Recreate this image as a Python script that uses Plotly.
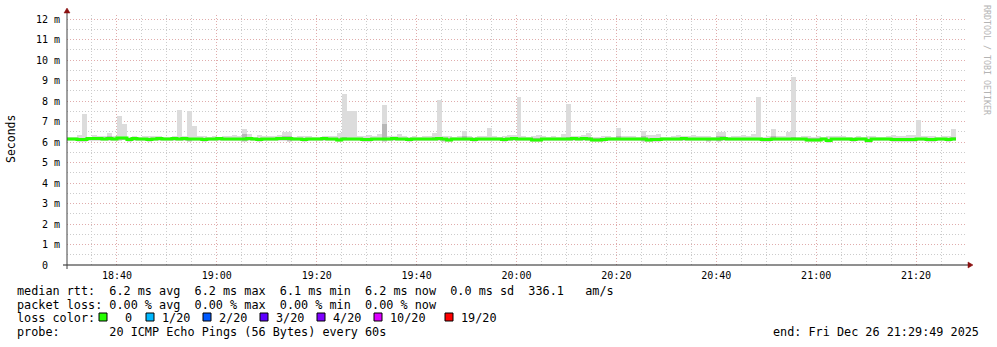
import pandas as pd
import plotly.graph_objects as go

# ---------------- data ----------------
start_time = "2025-12-26 18:30:00"
end_time = "2025-12-26 21:30:00"

median_ms = [
    6.15, 6.15, 6.12, 6.12, 6.17, 6.17, 6.17, 6.15, 6.17, 6.15,
    6.20, 6.20, 6.12, 6.17, 6.15, 6.15, 6.12, 6.15, 6.17, 6.15,
    6.15, 6.17, 6.15, 6.17, 6.15, 6.15, 6.15, 6.12, 6.15, 6.15,
    6.17, 6.15, 6.15, 6.15, 6.15, 6.15, 6.17, 6.15, 6.12, 6.15,
    6.15, 6.15, 6.17, 6.17, 6.17, 6.15, 6.15, 6.12, 6.15, 6.15,
    6.15, 6.17, 6.15, 6.15, 6.10, 6.15, 6.15, 6.15, 6.15, 6.12,
    6.12, 6.15, 6.15, 6.15, 6.15, 6.17, 6.15, 6.15, 6.12, 6.15,
    6.15, 6.15, 6.15, 6.15, 6.17, 6.15, 6.10, 6.15, 6.15, 6.15,
    6.15, 6.12, 6.15, 6.15, 6.15, 6.15, 6.15, 6.12, 6.15, 6.17,
    6.15, 6.15, 6.15, 6.10, 6.10, 6.15, 6.15, 6.15, 6.15, 6.15,
    6.15, 6.17, 6.15, 6.17, 6.15, 6.10, 6.10, 6.12, 6.15, 6.15,
    6.15, 6.15, 6.15, 6.15, 6.15, 6.15, 6.10, 6.12, 6.12, 6.15,
    6.15, 6.15, 6.15, 6.17, 6.15, 6.15, 6.15, 6.15, 6.15, 6.15,
    6.15, 6.17, 6.15, 6.15, 6.15, 6.15, 6.15, 6.15, 6.15, 6.12,
    6.12, 6.15, 6.15, 6.15, 6.15, 6.15, 6.15, 6.15, 6.10, 6.10,
    6.10, 6.15, 6.08, 6.15, 6.15, 6.15, 6.15, 6.12, 6.15, 6.15,
    6.08, 6.15, 6.15, 6.15, 6.15, 6.12, 6.12, 6.12, 6.12, 6.12,
    6.15, 6.15, 6.12, 6.12, 6.15, 6.15, 6.12, 6.15,
]

smoke_max_ms = [
    6.25, 6.27, 6.34, 7.38, 6.27, 6.34, 6.30, 6.28, 6.45, 6.30,
    7.27, 6.88, 6.27, 6.30, 6.26, 6.30, 6.30, 6.28, 6.30, 6.25,
    6.27, 6.30, 7.56, 6.30, 7.53, 6.78, 6.28, 6.30, 6.25, 6.28,
    6.27, 6.30, 6.28, 6.32, 6.28, 6.63, 6.40, 6.27, 6.32, 6.30,
    6.30, 6.30, 6.32, 6.50, 6.50, 6.27, 6.28, 6.30, 6.30, 6.27,
    6.27, 6.30, 6.28, 6.30, 6.45, 8.34, 7.53, 7.53, 6.30, 6.28,
    6.32, 6.30, 6.37, 7.80, 6.30, 6.28, 6.40, 6.30, 6.27, 6.28,
    6.27, 6.30, 6.30, 6.46, 8.05, 6.30, 6.30, 6.27, 6.30, 6.53,
    6.28, 6.27, 6.30, 6.28, 6.67, 6.28, 6.27, 6.30, 6.32, 6.34,
    8.21, 6.28, 6.26, 6.30, 6.32, 6.30, 6.27, 6.28, 6.27, 6.37,
    7.85, 6.28, 6.30, 6.34, 6.45, 6.27, 6.26, 6.28, 6.30, 6.27,
    6.70, 6.30, 6.30, 6.28, 6.27, 6.53, 6.32, 6.32, 6.37, 6.27,
    6.26, 6.30, 6.32, 6.30, 6.30, 6.32, 6.28, 6.30, 6.28, 6.27,
    6.50, 6.50, 6.27, 6.28, 6.30, 6.32, 6.28, 6.37, 8.21, 6.27,
    6.30, 6.63, 6.28, 6.30, 6.50, 9.19, 6.27, 6.28, 6.30, 6.27,
    6.28, 6.26, 6.30, 6.30, 6.30, 6.30, 6.26, 6.27, 6.28, 6.26,
    6.30, 6.30, 6.27, 6.26, 6.30, 6.32, 6.30, 6.30, 6.32, 6.34,
    7.07, 6.30, 6.28, 6.28, 6.27, 6.30, 6.28, 6.63,
]

smoke_min_ms = [
    6.03, 6.04, 6.00, 6.00, 6.05, 6.03, 6.05, 6.03, 6.05, 6.03,
    6.06, 6.08, 6.00, 6.05, 6.03, 6.03, 6.00, 6.03, 6.05, 6.03,
    6.03, 6.05, 6.03, 6.05, 6.01, 6.03, 6.03, 6.00, 6.03, 6.03,
    6.05, 6.03, 6.03, 6.03, 6.03, 6.01, 6.05, 6.03, 6.00, 6.03,
    6.03, 6.03, 6.05, 6.05, 6.01, 6.03, 6.03, 6.00, 6.03, 6.03,
    6.03, 6.05, 6.03, 6.03, 5.98, 6.03, 6.03, 6.03, 6.03, 6.00,
    6.00, 6.03, 6.03, 6.01, 6.03, 6.05, 6.03, 6.03, 6.00, 6.03,
    6.03, 6.03, 6.03, 6.03, 6.05, 6.01, 5.98, 6.03, 6.03, 6.03,
    6.03, 6.00, 6.03, 6.03, 6.03, 6.03, 6.03, 6.00, 6.03, 6.05,
    6.03, 6.03, 6.03, 5.98, 5.98, 6.03, 6.03, 6.03, 6.03, 6.03,
    6.03, 6.05, 6.03, 6.05, 6.03, 5.98, 5.98, 6.00, 6.03, 6.03,
    6.03, 6.03, 6.03, 6.03, 6.03, 6.01, 5.98, 6.00, 6.00, 6.03,
    6.03, 6.03, 6.03, 6.05, 6.03, 6.03, 6.03, 6.03, 6.01, 6.03,
    6.00, 6.05, 6.03, 6.03, 6.03, 6.03, 6.03, 6.03, 6.03, 6.00,
    6.00, 6.03, 6.03, 6.03, 6.03, 6.03, 6.03, 6.03, 5.98, 5.98,
    5.98, 6.03, 5.96, 6.03, 6.03, 6.03, 6.03, 6.00, 6.03, 6.03,
    5.96, 6.03, 6.03, 6.03, 6.03, 6.00, 6.00, 6.00, 6.00, 6.00,
    6.03, 6.03, 6.00, 6.00, 6.03, 6.03, 5.98, 6.03,
]

# darker core of the smoke (inner pings)
smoke_core_lo_ms = [
    6.08, 6.08, 6.05, 6.05, 6.10, 6.08, 6.10, 6.08, 6.10, 6.08,
    6.12, 6.12, 6.05, 6.10, 6.08, 6.08, 6.05, 6.08, 6.10, 6.08,
    6.08, 6.10, 6.08, 6.10, 6.07, 6.08, 6.08, 6.05, 6.08, 6.08,
    6.10, 6.08, 6.08, 6.08, 6.08, 6.07, 6.10, 6.08, 6.05, 6.08,
    6.08, 6.08, 6.10, 6.10, 6.07, 6.08, 6.08, 6.05, 6.08, 6.08,
    6.08, 6.10, 6.08, 6.08, 6.03, 6.08, 6.08, 6.08, 6.08, 6.05,
    6.05, 6.08, 6.08, 6.07, 6.08, 6.10, 6.08, 6.08, 6.05, 6.08,
    6.08, 6.08, 6.08, 6.08, 6.10, 6.07, 6.03, 6.08, 6.08, 6.08,
    6.08, 6.05, 6.08, 6.08, 6.08, 6.08, 6.08, 6.05, 6.08, 6.10,
    6.08, 6.08, 6.08, 6.03, 6.03, 6.08, 6.08, 6.08, 6.08, 6.08,
    6.08, 6.10, 6.08, 6.10, 6.08, 6.03, 6.03, 6.05, 6.08, 6.08,
    6.08, 6.08, 6.08, 6.08, 6.08, 6.07, 6.03, 6.05, 6.05, 6.08,
    6.08, 6.08, 6.08, 6.10, 6.08, 6.08, 6.08, 6.08, 6.07, 6.08,
    6.05, 6.10, 6.08, 6.08, 6.08, 6.08, 6.08, 6.08, 6.08, 6.05,
    6.05, 6.08, 6.08, 6.08, 6.08, 6.08, 6.08, 6.08, 6.03, 6.03,
    6.03, 6.08, 6.01, 6.08, 6.08, 6.08, 6.08, 6.05, 6.08, 6.08,
    6.01, 6.08, 6.08, 6.08, 6.08, 6.05, 6.05, 6.05, 6.05, 6.05,
    6.08, 6.08, 6.05, 6.05, 6.08, 6.08, 6.04, 6.08,
]
smoke_core_hi_ms = [
    6.21, 6.22, 6.18, 6.22, 6.23, 6.22, 6.23, 6.21, 6.30, 6.21,
    6.26, 6.26, 6.18, 6.23, 6.21, 6.21, 6.18, 6.21, 6.23, 6.21,
    6.21, 6.23, 6.21, 6.23, 6.22, 6.21, 6.21, 6.18, 6.21, 6.21,
    6.23, 6.21, 6.21, 6.22, 6.21, 6.40, 6.23, 6.21, 6.18, 6.21,
    6.21, 6.21, 6.23, 6.30, 6.30, 6.21, 6.21, 6.18, 6.21, 6.21,
    6.21, 6.23, 6.21, 6.21, 6.18, 6.24, 6.22, 6.22, 6.21, 6.18,
    6.18, 6.21, 6.22, 6.90, 6.21, 6.23, 6.22, 6.21, 6.18, 6.21,
    6.21, 6.21, 6.21, 6.25, 6.23, 6.21, 6.18, 6.21, 6.21, 6.30,
    6.21, 6.18, 6.21, 6.21, 6.22, 6.21, 6.21, 6.18, 6.21, 6.23,
    6.22, 6.21, 6.21, 6.18, 6.18, 6.21, 6.21, 6.21, 6.21, 6.22,
    6.24, 6.23, 6.21, 6.23, 6.25, 6.18, 6.18, 6.18, 6.21, 6.21,
    6.30, 6.21, 6.21, 6.21, 6.21, 6.28, 6.18, 6.18, 6.22, 6.21,
    6.21, 6.21, 6.21, 6.23, 6.21, 6.21, 6.21, 6.21, 6.21, 6.21,
    6.28, 6.28, 6.21, 6.21, 6.21, 6.21, 6.21, 6.22, 6.22, 6.18,
    6.18, 6.30, 6.21, 6.21, 6.22, 6.24, 6.21, 6.21, 6.18, 6.18,
    6.18, 6.21, 6.16, 6.21, 6.21, 6.21, 6.21, 6.18, 6.21, 6.21,
    6.16, 6.21, 6.21, 6.21, 6.21, 6.18, 6.18, 6.18, 6.18, 6.20,
    6.22, 6.21, 6.18, 6.18, 6.21, 6.21, 6.18, 6.24,
]

y_tick_values = [0, 1, 2, 3, 4, 5, 6, 7, 8, 9, 10, 11, 12]
y_tick_labels = ["0\u00a0\u00a0", "1 m", "2 m", "3 m", "4 m", "5 m", "6 m",
                 "7 m", "8 m", "9 m", "10 m", "11 m", "12 m"]
y_max = 12.2

loss_labels = ["0", "1/20", "2/20", "3/20", "4/20", "10/20", "19/20"]
loss_colors = ["#26ff00", "#00b8ff", "#0059ff", "#5e00ff", "#7e00ff", "#dd00ff", "#ff0000"]

legend_lines = [
    "median rtt:  6.2 ms avg  6.2 ms max  6.1 ms min  6.2 ms now  0.0 ms sd  336.1   am/s",
    "packet loss: 0.00 % avg  0.00 % max  0.00 % min  0.00 % now",
    "loss color:",
    "probe:       20 ICMP Echo Pings (56 Bytes) every 60s",
]
end_text = "end: Fri Dec 26 21:29:49 2025"
y_title = "Seconds"
watermark = "RRDTOOL / TOBI OETIKER"

# ---------------- layout geometry (pixels) ----------------
W, H = 997, 347
L, R, T, B = 67, 966, 15, 265
PW, PH = R - L, B - T

def px(xp):
    return (xp - L) / PW

def py(yp):
    return (B - yp) / PH

MONO = "DejaVu Sans Mono"

times = pd.date_range(start=start_time, periods=len(median_ms) + 1, freq="min")
bar_x = times[:-1]

fig = go.Figure()

fig.add_trace(go.Bar(
    x=bar_x, base=smoke_min_ms,
    y=[hi - lo for hi, lo in zip(smoke_max_ms, smoke_min_ms)],
    width=60000, offset=0,
    marker=dict(color="#dcdcdc", line=dict(width=0)),
    hoverinfo="skip",
))
fig.add_trace(go.Bar(
    x=bar_x, base=smoke_core_lo_ms,
    y=[hi - lo for hi, lo in zip(smoke_core_hi_ms, smoke_core_lo_ms)],
    width=60000, offset=0,
    marker=dict(color="#b8b8b8", line=dict(width=0)),
    hoverinfo="skip",
))
fig.add_trace(go.Scatter(
    x=times, y=median_ms + [median_ms[-1]],
    mode="lines", line=dict(color="#26ff00", width=3, shape="hv"),
    hoverinfo="skip",
))

major_grid = "#e0acac"
minor_grid = "#cccccc"

fig.update_layout(
    width=W, height=H,
    margin=dict(l=L, r=W - R, t=T, b=H - B, pad=0),
    paper_bgcolor="white", plot_bgcolor="white",
    showlegend=False, barmode="overlay", bargap=0,
    font=dict(family=MONO, size=10, color="black"),
)

fig.update_xaxes(
    type="date",
    range=[start_time, end_time],
    tickformat="%H:%M", dtick=1200000, tick0="2025-12-26 18:40:00",
    showgrid=True, gridcolor=major_grid, griddash="1px,2px", gridwidth=1,
    minor=dict(dtick=300000, tick0="2025-12-26 18:30:00", showgrid=True,
               gridcolor=minor_grid, griddash="1px,2px", gridwidth=1),
    ticks="", showline=False, zeroline=False,
    tickfont=dict(family=MONO, size=10, color="black"),
    ticklabelstandoff=3,
    fixedrange=True,
)
fig.update_yaxes(
    range=[0, y_max],
    tickvals=y_tick_values, ticktext=y_tick_labels,
    showgrid=True, gridcolor=major_grid, griddash="1px,2px", gridwidth=1,
    minor=dict(dtick=0.5, tick0=0, showgrid=True,
               gridcolor=minor_grid, griddash="1px,2px", gridwidth=1),
    ticks="", showline=False, zeroline=False,
    tickfont=dict(family=MONO, size=10, color="black"),
    ticklabelstandoff=6,
    fixedrange=True,
)

shapes = []
axis_col = "#404040"
arrow_col = "#8b1010"
# x axis line + arrow
shapes.append(dict(type="line", xref="paper", yref="paper",
                   x0=px(L - 4), x1=px(R + 4), y0=py(B), y1=py(B),
                   line=dict(color="#202020", width=1)))
shapes.append(dict(type="path", xref="paper", yref="paper",
                   path=f"M {px(R+2)} {py(B-3)} L {px(R+2)} {py(B+3)} L {px(R+7)} {py(B)} Z",
                   fillcolor=arrow_col, line=dict(color=arrow_col, width=0.5)))
# y axis line + arrow
shapes.append(dict(type="line", xref="paper", yref="paper",
                   x0=px(L), x1=px(L), y0=py(B + 4), y1=py(T - 4),
                   line=dict(color=axis_col, width=1)))
shapes.append(dict(type="path", xref="paper", yref="paper",
                   path=f"M {px(L-3)} {py(T-2)} L {px(L+3)} {py(T-2)} L {px(L)} {py(T-7)} Z",
                   fillcolor=arrow_col, line=dict(color=arrow_col, width=0.5)))

# loss colour boxes
box_left_px = [99, 146, 203, 260, 317, 374, 445]
label_left_px = [123, 160, 217, 274, 331, 388, 459]
for bx, col in zip(box_left_px, loss_colors):
    shapes.append(dict(type="rect", xref="paper", yref="paper",
                       x0=px(bx), x1=px(bx + 8), y0=py(321), y1=py(313),
                       fillcolor=col, line=dict(color="black", width=1)))

annotations = []
legend_y_px = [290.5, 304.5, 318, 332]
LEG_SIZE = 11.8
for text, ypx in zip(legend_lines, legend_y_px):
    annotations.append(dict(text=text, xref="paper", yref="paper",
                            x=px(15), y=py(ypx), xanchor="left", yanchor="middle",
                            showarrow=False, font=dict(family=MONO, size=LEG_SIZE, color="black")))
for lab, lx in zip(loss_labels, label_left_px):
    annotations.append(dict(text=lab, xref="paper", yref="paper",
                            x=px(lx), y=py(318), xanchor="left", yanchor="middle",
                            showarrow=False, font=dict(family=MONO, size=LEG_SIZE, color="black")))
annotations.append(dict(text=end_text, xref="paper", yref="paper",
                        x=px(981), y=py(332), xanchor="right", yanchor="middle",
                        showarrow=False, font=dict(family=MONO, size=LEG_SIZE, color="black")))
annotations.append(dict(text=y_title, xref="paper", yref="paper",
                        x=px(11), y=py(139), xanchor="center", yanchor="middle",
                        textangle=-90, showarrow=False,
                        font=dict(family=MONO, size=11.5, color="black")))
annotations.append(dict(text=watermark, xref="paper", yref="paper",
                        x=px(987), y=py(60), xanchor="center", yanchor="middle",
                        textangle=90, showarrow=False,
                        font=dict(family=MONO, size=8.3, color="#b4b4b4")))

fig.update_layout(shapes=shapes, annotations=annotations)

fig.write_html("out.html")
